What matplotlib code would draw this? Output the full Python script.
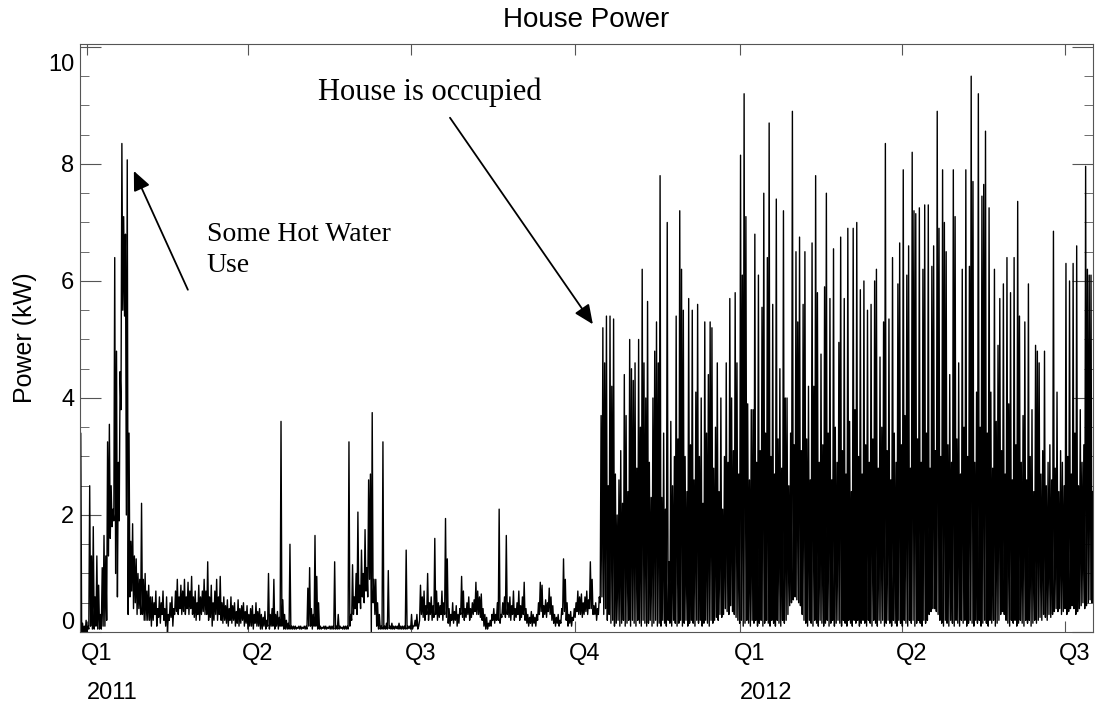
import numpy as np
import matplotlib
matplotlib.use('Agg')
import matplotlib.pyplot as plt
from matplotlib.ticker import MultipleLocator, NullLocator
from matplotlib.transforms import ScaledTranslation

# x axis: days counted from 2011-01-01, first sample on 2010-12-28
first_day = -4
quarter_days = [0, 90, 181, 273, 365, 456, 547]
quarter_labels = ['Q1', 'Q2', 'Q3', 'Q4', 'Q1', 'Q2', 'Q3']
year_days = [0, 365]
year_labels = ['2011', '2012']

# daily minimum and maximum power (kW), one value per day
daily_low = [
    0.05, 0.0, 0.0, 0.0, 0.0, 0.05, 0.1, 0.05, 0.05, 0.1,
    0.05, 0.05, 0.05, 0.1, 0.1, 0.2, 1.3, 1.6, 1.8, 1.9,
    1.0, 0.6, 1.9, 3.8, 5.5, 5.4, 2.0, 0.3, 0.6, 0.7,
    0.4, 0.5, 0.3, 0.4, 0.3, 0.3, 0.2, 0.2, 0.2, 0.2,
    0.1, 0.2, 0.3, 0.1, 0.25, 0.15, 0.3, 0.2, 0.1, 0.0,
    0.2, 0.25, 0.1, 0.3, 0.35, 0.3, 0.4, 0.3, 0.35, 0.3,
    0.4, 0.3, 0.4, 0.3, 0.25, 0.2, 0.3, 0.2, 0.3, 0.35,
    0.3, 0.3, 0.2, 0.25, 0.1, 0.2, 0.3, 0.2, 0.3, 0.2,
    0.15, 0.2, 0.15, 0.1, 0.2, 0.15, 0.2, 0.1, 0.15, 0.1,
    0.15, 0.2, 0.1, 0.15, 0.05, 0.1, 0.1, 0.05, 0.15, 0.1,
    0.1, 0.05, 0.05, 0.1, 0.05, 0.1, 0.05, 0.1, 0.1, 0.05,
    0.1, 0.05, 0.1, 0.1, 0.05, 0.05, 0.05, 0.05, 0.05, 0.05,
    0.05, 0.05, 0.06, 0.05, 0.05, 0.06, 0.05, 0.05, 0.1, 0.1,
    0.05, 0.1, 0.1, 0.05, 0.05, 0.05, 0.06, 0.05, 0.05, 0.06,
    0.05, 0.05, 0.05, 0.05, 0.05, 0.05, 0.06, 0.05, 0.05, 0.05,
    0.05, 0.1, 0.2, 0.3, 0.4, 0.3, 0.5, 0.4, 0.6, 0.5,
    0.7, 0.6, 0.9, 0.0, 0.5, 0.3, 0.1, 0.05, 0.05, 0.05,
    0.05, 0.05, 0.05, 0.06, 0.05, 0.05, 0.05, 0.06, 0.05, 0.05,
    0.05, 0.05, 0.05, 0.05, 0.06, 0.05, 0.05, 0.1, 0.1, 0.05,
    0.2, 0.3, 0.25, 0.2, 0.3, 0.2, 0.3, 0.2, 0.25, 0.3,
    0.2, 0.25, 0.3, 0.2, 0.3, 0.25, 0.15, 0.1, 0.2, 0.15,
    0.2, 0.1, 0.15, 0.3, 0.25, 0.2, 0.25, 0.3, 0.2, 0.25,
    0.3, 0.35, 0.3, 0.3, 0.25, 0.2, 0.1, 0.05, 0.05, 0.1,
    0.1, 0.2, 0.15, 0.2, 0.2, 0.15, 0.25, 0.3, 0.25, 0.3,
    0.25, 0.2, 0.3, 0.2, 0.25, 0.3, 0.2, 0.25, 0.3, 0.2,
    0.15, 0.1, 0.15, 0.1, 0.15, 0.1, 0.2, 0.3, 0.35, 0.25,
    0.3, 0.25, 0.35, 0.3, 0.2, 0.15, 0.1, 0.15, 0.1, 0.15,
    0.3, 0.35, 0.2, 0.1, 0.15, 0.1, 0.2, 0.25, 0.35, 0.3,
    0.3, 0.25, 0.3, 0.35, 0.3, 0.4, 0.4, 0.3, 0.3, 0.2,
    0.3, 0.5, 0.6, 0.3, 0.4, 0.2, 0.3, 0.15, 0.2, 0.1,
    0.15, 0.2, 0.1, 0.15, 0.2, 0.1, 0.15, 0.2, 0.1, 0.2,
    0.15, 0.1, 0.2, 0.15, 0.1, 0.2, 0.15, 0.1, 0.15, 0.2,
    0.1, 0.15, 0.2, 0.1, 0.15, 0.1, 0.2, 0.15, 0.1, 0.2,
    0.15, 0.1, 0.2, 0.15, 0.1, 0.15, 0.2, 0.1, 0.15, 0.2,
    0.1, 0.15, 0.2, 0.15, 0.1, 0.2, 0.15, 0.2, 0.1, 0.15,
    0.2, 0.15, 0.1, 0.2, 0.15, 0.2, 0.25, 0.2, 0.3, 0.25,
    0.3, 0.4, 0.35, 0.3, 0.45, 0.35, 0.3, 0.25, 0.2, 0.15,
    0.2, 0.1, 0.15, 0.2, 0.15, 0.1, 0.2, 0.15, 0.2, 0.1,
    0.15, 0.2, 0.1, 0.15, 0.2, 0.15, 0.1, 0.2, 0.15, 0.1,
    0.2, 0.15, 0.1, 0.2, 0.15, 0.2, 0.3, 0.45, 0.5, 0.55,
    0.6, 0.55, 0.5, 0.45, 0.3, 0.2, 0.15, 0.1, 0.2, 0.15,
    0.1, 0.2, 0.15, 0.1, 0.2, 0.15, 0.1, 0.15, 0.2, 0.1,
    0.15, 0.2, 0.1, 0.15, 0.2, 0.15, 0.1, 0.2, 0.15, 0.1,
    0.2, 0.15, 0.1, 0.2, 0.15, 0.2, 0.1, 0.15, 0.2, 0.15,
    0.1, 0.2, 0.15, 0.1, 0.2, 0.15, 0.1, 0.2, 0.15, 0.2,
    0.1, 0.15, 0.2, 0.15, 0.1, 0.2, 0.15, 0.1, 0.2, 0.15,
    0.1, 0.2, 0.15, 0.1, 0.2, 0.15, 0.2, 0.1, 0.15, 0.2,
    0.15, 0.1, 0.2, 0.15, 0.2, 0.3, 0.35, 0.4, 0.4, 0.35,
    0.3, 0.2, 0.15, 0.1, 0.2, 0.15, 0.1, 0.2, 0.15, 0.1,
    0.2, 0.15, 0.1, 0.2, 0.15, 0.2, 0.1, 0.15, 0.2, 0.15,
    0.1, 0.2, 0.15, 0.2, 0.1, 0.15, 0.2, 0.15, 0.1, 0.2,
    0.15, 0.2, 0.1, 0.15, 0.2, 0.3, 0.35, 0.3, 0.2, 0.15,
    0.1, 0.2, 0.15, 0.2, 0.1, 0.15, 0.2, 0.15, 0.1, 0.2,
    0.15, 0.2, 0.1, 0.15, 0.2, 0.15, 0.2, 0.25, 0.2, 0.3,
    0.25, 0.2, 0.3, 0.25, 0.3, 0.35, 0.4, 0.35, 0.4, 0.3,
    0.35, 0.4, 0.3, 0.35, 0.4, 0.45, 0.4, 0.3, 0.35, 0.4,
    0.45, 0.5, 0.4, 0.45, 0.5, 0.55, 0.5,
]
daily_high = [
    3.4, 0.15, 0.1, 0.2, 0.1, 2.5, 1.3, 1.8, 0.6, 1.3,
    0.8, 0.3, 1.1, 1.65, 1.3, 3.25, 3.55, 2.5, 2.1, 6.4,
    4.8, 2.9, 4.45, 8.35, 7.1, 6.8, 8.07, 3.4, 1.55, 1.85,
    1.3, 1.25, 1.0, 0.9, 2.2, 0.9, 1.0, 0.7, 0.8, 0.6,
    0.6, 0.5, 0.7, 0.4, 0.6, 0.5, 0.7, 0.4, 0.6, 0.3,
    0.5, 0.6, 0.4, 0.7, 0.9, 0.6, 0.8, 0.7, 0.9, 0.6,
    0.85, 0.7, 0.95, 0.6, 0.7, 0.5, 0.8, 0.6, 0.7, 0.9,
    0.7, 1.2, 0.6, 0.8, 0.5, 0.7, 0.9, 0.6, 0.95, 0.5,
    0.6, 0.45, 0.55, 0.4, 0.6, 0.45, 0.5, 0.35, 0.55, 0.4,
    0.45, 0.5, 0.35, 0.45, 0.3, 0.4, 0.45, 0.3, 0.5, 0.35,
    0.4, 0.3, 0.25, 0.35, 0.2, 1.0, 0.3, 0.4, 0.9, 0.3,
    0.35, 0.25, 3.6, 0.55, 0.3, 0.2, 0.15, 1.5, 0.1, 0.1,
    0.1, 0.08, 0.1, 0.1, 0.08, 0.1, 0.1, 0.75, 1.1, 0.4,
    0.3, 1.65, 0.95, 0.5, 0.1, 0.08, 0.1, 0.1, 0.08, 0.1,
    0.1, 0.1, 1.2, 0.1, 0.3, 0.1, 0.08, 0.1, 0.1, 0.1,
    3.25, 0.3, 1.15, 0.6, 1.0, 2.05, 0.8, 1.4, 1.0, 1.75,
    1.1, 2.6, 2.7, 3.75, 0.9, 0.9, 0.5, 0.3, 0.1, 3.25,
    0.1, 0.15, 1.05, 0.1, 0.15, 0.1, 0.1, 0.1, 0.15, 0.1,
    0.1, 0.1, 1.4, 0.1, 0.1, 0.3, 0.1, 0.2, 0.3, 0.1,
    0.8, 0.6, 0.7, 0.45, 1.0, 0.5, 0.6, 0.45, 1.6, 0.7,
    0.5, 0.45, 0.7, 0.5, 1.94, 1.25, 0.4, 0.3, 0.5, 0.35,
    0.45, 0.3, 0.4, 0.95, 0.7, 0.4, 0.5, 0.6, 0.4, 0.5,
    0.55, 0.85, 0.7, 0.6, 0.65, 0.4, 0.3, 0.25, 0.15, 0.2,
    0.3, 0.4, 0.3, 0.5, 2.1, 0.3, 0.5, 0.6, 1.65, 0.5,
    0.6, 0.45, 0.7, 0.4, 0.5, 0.7, 0.45, 0.6, 0.85, 0.4,
    0.3, 0.25, 0.35, 0.3, 0.25, 0.3, 0.5, 0.85, 0.8, 0.45,
    0.55, 0.5, 0.75, 0.6, 0.45, 0.3, 0.25, 0.3, 0.2, 0.4,
    1.25, 0.9, 0.5, 0.3, 0.35, 0.25, 0.4, 0.5, 0.7, 0.6,
    0.65, 0.5, 0.6, 0.7, 0.55, 1.2, 0.9, 0.45, 0.5, 0.4,
    0.6, 3.7, 5.2, 4.6, 5.4, 2.5, 5.4, 4.2, 5.35, 2.7,
    2.0, 2.6, 3.1, 2.2, 4.4, 3.7, 2.4, 5.0, 4.5, 4.3,
    4.6, 2.8, 5.0, 3.5, 6.2, 4.6, 4.0, 5.65, 2.9, 2.3,
    4.0, 4.8, 5.3, 4.6, 7.8, 2.3, 3.4, 2.1, 7.0, 1.2,
    3.6, 2.5, 3.0, 5.4, 3.3, 7.2, 6.2, 5.5, 3.0, 2.4,
    5.7, 3.2, 5.5, 2.6, 4.1, 5.6, 3.0, 4.0, 2.2, 5.3,
    3.4, 4.4, 5.3, 5.2, 2.8, 3.5, 4.6, 2.4, 4.0, 2.1,
    3.0, 4.6, 2.9, 5.7, 4.0, 3.1, 5.8, 4.6, 2.7, 8.15,
    6.1, 9.2, 7.1, 3.9, 2.6, 3.8, 3.8, 6.8, 2.9, 6.1,
    3.1, 5.55, 7.5, 3.4, 6.4, 8.7, 3.0, 5.6, 2.7, 7.4,
    3.3, 4.5, 2.8, 7.2, 4.0, 4.0, 2.5, 3.4, 8.9, 3.2,
    6.5, 5.3, 6.75, 3.1, 5.6, 6.5, 3.3, 4.2, 2.6, 6.65,
    4.2, 7.8, 5.8, 2.9, 4.75, 3.2, 5.9, 7.5, 3.4, 5.7,
    2.6, 6.55, 3.5, 2.9, 4.95, 6.75, 3.1, 5.7, 2.7, 6.9,
    3.6, 2.4, 6.9, 3.8, 7.0, 3.0, 5.85, 2.7, 6.0, 3.2,
    5.5, 2.9, 5.6, 3.3, 6.0, 6.2, 2.8, 4.7, 3.5, 5.3,
    8.35, 3.1, 5.35, 2.6, 6.4, 3.4, 2.9, 5.95, 6.65, 3.2,
    7.9, 3.7, 6.1, 6.6, 2.8, 8.2, 7.2, 7.15, 3.3, 7.25,
    2.9, 6.2, 7.3, 3.4, 7.3, 2.8, 6.25, 6.6, 3.1, 8.9,
    6.9, 3.0, 7.9, 7.0, 6.5, 3.2, 4.4, 2.9, 7.9, 7.1,
    3.3, 4.6, 2.7, 6.2, 3.5, 7.9, 3.0, 6.25, 9.5, 7.7,
    2.9, 4.1, 9.2, 3.5, 7.45, 7.65, 8.56, 3.4, 7.25, 4.1,
    2.8, 6.2, 3.6, 4.9, 5.7, 3.1, 5.95, 2.7, 6.4, 3.9,
    5.8, 2.6, 6.4, 3.2, 7.36, 5.4, 2.9, 3.7, 5.3, 2.6,
    5.95, 3.0, 3.8, 2.4, 4.9, 4.8, 4.6, 2.7, 3.1, 4.8,
    2.5, 2.9, 3.2, 2.6, 6.85, 2.8, 4.1, 2.4, 3.1, 2.9,
    2.5, 6.3, 3.0, 6.0, 2.7, 6.3, 3.4, 6.6, 2.5, 3.8,
    2.9, 3.2, 7.96, 6.2, 6.1, 6.1, 2.4,
]
assert len(daily_low) == len(daily_high)

n = len(daily_high)
power = np.column_stack([daily_low, daily_high]).ravel()
days = first_day + np.arange(2 * n) / 2.0

fig = plt.figure(figsize=(11.01, 7.09), dpi=100)
ax = fig.add_axes([0.0727, 0.1086, 0.92, 0.8293])

ax.plot(days, power, color='black', lw=1.0)

ax.set_xlim(-3.9, 562.6)
ax.set_ylim(0, 10.05)

sans = 'Liberation Sans'
serif = 'Liberation Serif'
axis_grey = '#555555'

for side in ax.spines.values():
    side.set_color(axis_grey)

ax.set_xticks(quarter_days)
ax.set_xticklabels(quarter_labels, fontfamily=sans, fontsize=17)
ax.xaxis.set_minor_locator(NullLocator())
ax.set_yticks([0, 2, 4, 6, 8, 10])
ax.set_yticklabels(['0', '2', '4', '6', '8', '10'], fontfamily=sans, fontsize=17)
ax.yaxis.set_minor_locator(MultipleLocator(0.5))

ax.tick_params(axis='x', which='major', direction='in', length=8, top=True,
               bottom=True, pad=8, color=axis_grey)
ax.tick_params(axis='y', which='major', direction='in', length=15, left=True,
               right=True, pad=4, color=axis_grey)
ax.tick_params(axis='y', which='minor', direction='in', length=6.5, left=True,
               right=True, color=axis_grey)

# quarter labels sit a little right of their ticks
shift = ScaledTranslation(7 / 72, 0, fig.dpi_scale_trans)
for lab in ax.get_xticklabels():
    lab.set_transform(lab.get_transform() + shift)

# end labels of the y axis are pulled inside the axis range
for lab in ax.get_yticklabels():
    if lab.get_text() == '10':
        lab.set_transform(lab.get_transform() + ScaledTranslation(0, -11 / 72, fig.dpi_scale_trans))
    if lab.get_text() == '0':
        lab.set_transform(lab.get_transform() + ScaledTranslation(0, 8 / 72, fig.dpi_scale_trans))

for d, y in zip(year_days, year_labels):
    ax.text(d, -0.104, y, transform=ax.get_xaxis_transform(), ha='left',
            va='center', fontfamily=sans, fontsize=17)

ax.set_title('House Power', fontfamily=sans, fontsize=20, pad=12)
ax.set_ylabel('Power (kW)', fontfamily=sans, fontsize=18, labelpad=8)

arrow = dict(arrowstyle='-|>,head_length=0.9,head_width=0.4', color='black',
             lw=1.3, shrinkA=0, shrinkB=0, mutation_scale=13)
ax.annotate('', xy=(282.9, 5.26), xytext=(203.0, 8.79), arrowprops=arrow)
ax.annotate('', xy=(26.2, 7.88), xytext=(56.4, 5.85), arrowprops=arrow)

ax.text(129.1, 9.23, 'House is occupied', ha='left', va='center',
        fontfamily=serif, fontsize=22)
ax.text(67.0, 6.53, 'Some Hot Water\nUse', ha='left', va='center',
        fontfamily=serif, fontsize=20, linespacing=1.3)

fig.savefig('out.png', dpi=100)
plt.close(fig)
